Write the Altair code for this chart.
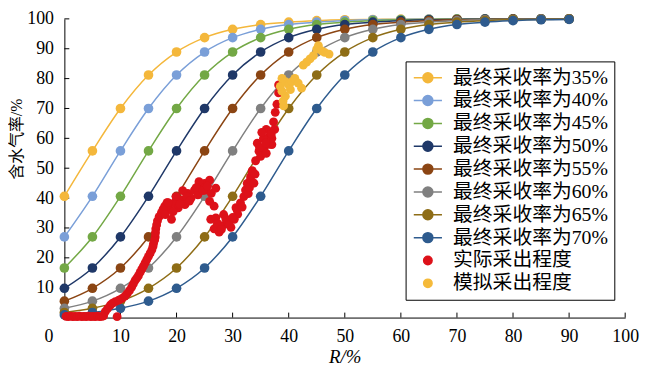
import altair as alt
import pandas as pd

# ---------------- data ----------------
R_GRID = [0, 5, 10, 15, 20, 25, 30, 35, 40, 45, 50, 55, 60, 65, 70, 75, 80, 85, 90]

series_names = ["最终采收率为35%", "最终采收率为40%", "最终采收率为45%", "最终采收率为50%",
                "最终采收率为55%", "最终采收率为60%", "最终采收率为65%", "最终采收率为70%"]
actual_name = "实际采出程度"
sim_name = "模拟采出程度"

fw35 = [40.6, 55.8, 70.0, 81.2, 88.9, 93.7, 96.5, 98.1, 98.9, 99.4, 99.7, 99.8, 99.9, 99.9, 100, 100, 100, 100, 100]
fw40 = [27.0, 40.6, 55.8, 70.0, 81.2, 88.9, 93.7, 96.5, 98.1, 98.9, 99.4, 99.7, 99.8, 99.9, 99.9, 100, 100, 100, 100]
fw45 = [16.6, 27.0, 40.6, 55.8, 70.0, 81.2, 88.9, 93.7, 96.5, 98.1, 98.9, 99.4, 99.7, 99.8, 99.9, 99.9, 100, 100, 100]
fw50 = [9.8, 16.6, 27.0, 40.6, 55.8, 70.0, 81.2, 88.9, 93.7, 96.5, 98.1, 98.9, 99.4, 99.7, 99.8, 99.9, 99.9, 100, 100]
fw55 = [5.5, 9.8, 16.6, 27.0, 40.6, 55.8, 70.0, 81.2, 88.9, 93.7, 96.5, 98.1, 98.9, 99.4, 99.7, 99.8, 99.9, 99.9, 100]
fw60 = [3.1, 5.5, 9.8, 16.6, 27.0, 40.6, 55.8, 70.0, 81.2, 88.9, 93.7, 96.5, 98.1, 98.9, 99.4, 99.7, 99.8, 99.9, 99.9]
fw65 = [1.7, 3.1, 5.5, 9.8, 16.6, 27.0, 40.6, 55.8, 70.0, 81.2, 88.9, 93.7, 96.5, 98.1, 98.9, 99.4, 99.7, 99.8, 99.9]
fw70 = [0.9, 1.7, 3.1, 5.5, 9.8, 16.6, 27.0, 40.6, 55.8, 70.0, 81.2, 88.9, 93.7, 96.5, 98.1, 98.9, 99.4, 99.7, 99.8]
curve_values = [fw35, fw40, fw45, fw50, fw55, fw60, fw65, fw70]

actual_R = [0.3, 0.7, 1.1, 1.5, 1.9, 2.3, 2.7, 3.1, 3.5, 3.9, 4.3, 4.7, 5.1, 5.5, 5.9, 6.3, 6.7, 7.0,
            7.3, 8.2, 9.1, 9.4, 10.3, 11.2, 12.0, 12.6, 13.2, 13.8, 14.4, 15.0, 15.6, 15.9, 16.2, 16.3,
            16.6, 17.3, 17.9, 18.8, 19.1, 19.6, 20.3, 20.9, 21.5, 22.0, 22.6, 23.2, 23.8, 24.4, 25.0,
            25.2, 25.9, 26.2, 27.0, 25.9, 26.7, 26.1, 27.0, 26.7, 27.6, 28.2, 28.4, 29.1, 29.7, 30.3,
            30.6, 30.9, 31.4, 32.0, 32.3, 32.6, 33.2, 33.5, 33.2, 33.5, 34.1, 34.7, 34.4, 35.6, 36.2,
            36.7, 37.0, 37.3, 37.6, 37.9, 38.2, 38.2, 35.0, 35.5, 36.0, 36.5, 37.0, 37.5, 36.0, 35.2,
            34.8, 35.9, 36.9, 18.3, 19.9, 21.1, 24.0,
            7.7, 8.6, 9.7, 10.8, 11.6, 12.3, 12.9, 13.5, 14.1, 14.7, 15.3, 15.8, 16.1, 16.25, 16.45,
            16.9, 17.6, 18.0, 18.5, 19.4, 20.6, 21.8, 22.3, 23.5, 24.7, 25.5, 27.3, 28.0, 28.8, 29.4,
            30.0, 30.8, 31.7, 32.8, 33.0, 33.8, 34.0]
actual_fw = [0.4, 0.3, 0.5, 0.3, 0.4, 0.3, 0.5, 0.3, 0.4, 0.3, 0.5, 0.3, 0.4, 0.3, 0.5, 0.3, 0.4, 0.6,
             2.0, 4.2, 5.3, 0.3, 6.4, 8.0, 10.2, 12.4, 14.0, 16.2, 18.3, 20.5, 22.7, 24.8, 27.0, 29.7,
             32.4, 35.1, 37.3, 36.2, 32.9, 38.4, 36.7, 39.4, 37.8, 41.6, 40.0, 42.7, 41.1, 43.8, 44.9,
             42.7, 46.0, 41.6, 43.3, 38.9, 37.3, 32.9, 33.4, 29.7, 28.6, 30.8, 34.5, 31.9, 30.2, 32.9,
             36.8, 34.6, 38.4, 40.5, 42.7, 44.9, 47.1, 48.1, 46.0, 49.2, 52.5, 55.7, 58.4, 56.8, 60.1,
             62.2, 57.9, 65.5, 68.7, 71.4, 75.2, 77.9, 54.0, 60.0, 55.0, 58.0, 60.0, 63.0, 63.0, 62.0,
             57.0, 58.5, 61.5, 38.5, 40.5, 42.5, 45.5,
             3.0, 4.8, 5.8, 7.2, 9.0, 11.3, 13.2, 15.1, 17.2, 19.4, 21.6, 23.8, 26.0, 28.4, 31.0,
             33.8, 36.3, 34.5, 38.5, 35.5, 38.0, 40.5, 39.0, 43.5, 42.5, 44.0, 31.5, 29.5, 33.0, 31.0,
             33.5, 36.0, 37.0, 41.5, 43.5, 45.0, 48.0]

sim_R = [39.1, 39.0, 39.4, 38.8, 38.5, 38.8, 39.4, 40.0, 40.3, 40.6, 41.1, 41.7, 42.3, 42.6, 43.2,
         43.8, 44.4, 45.0, 45.3, 45.9, 46.4, 47.2]
sim_fw = [70.9, 72.5, 74.1, 75.8, 77.4, 80.1, 79.0, 77.9, 76.3, 79.0, 80.1, 78.5, 76.8, 84.5, 85.5,
          86.6, 87.7, 89.9, 91.0, 89.3, 88.8, 88.2]

x_tick_values = [0, 10, 20, 30, 40, 50, 60, 70, 80, 90, 100]
y_tick_values = [10, 20, 30, 40, 50, 60, 70, 80, 90, 100]

curve_colors = ["#F4B73B", "#7A9FD8", "#73A845", "#1F3868", "#8B4513", "#808080", "#8E6D16", "#2E5B8E"]
actual_color = "#DD1119"
sim_color = "#F5BA3A"

# ---------------- tables ----------------
curves_df = pd.DataFrame([
    {"R": r, "fw": v, "series": name, "order": i}
    for i, (name, vals) in enumerate(zip(series_names, curve_values))
    for r, v in zip(R_GRID, vals)
])
actual_df = pd.DataFrame({"R": actual_R, "fw": actual_fw, "series": actual_name})
sim_df = pd.DataFrame({"R": sim_R, "fw": sim_fw, "series": sim_name})
xt_df = pd.DataFrame({"R": x_tick_values[1:]})
yt_df = pd.DataFrame({"fw": y_tick_values})

W, H = 567, 302
SERIF = "Liberation Serif, Noto Sans CJK SC"

domain = series_names + [actual_name, sim_name]
color_scale = alt.Scale(domain=domain, range=curve_colors + [actual_color, sim_color])
LINE_DOT = "M-1.5,0L1.5,0M0.53,0A0.53,0.53,0,1,1,-0.53,0A0.53,0.53,0,1,1,0.53,0Z"
DOT = "M0.45,0A0.45,0.45,0,1,1,-0.45,0A0.45,0.45,0,1,1,0.45,0Z"
shape_scale = alt.Scale(domain=domain, range=[LINE_DOT] * 8 + [DOT, DOT])

xs = alt.Scale(domain=[0, 100], nice=False, zero=False)
ys = alt.Scale(domain=[0, 100], nice=False, zero=False)

x_axis = alt.Axis(
    values=x_tick_values, title="R/%", grid=False, tickSize=0,
    domainColor="black", domainWidth=1,
    labelFont=SERIF, labelFontSize=18, labelColor="black", labelPadding=10,
    labelFlush=False, labelOverlap=False,
    labelOffset={"condition": {"test": "datum.value === 0", "value": -16}, "value": 0},
    titleFont=SERIF, titleFontSize=19, titleFontWeight="normal", titleFontStyle="italic",
    titleColor="black", titleY=39, titleBaseline="middle",
)
y_axis = alt.Axis(
    values=y_tick_values, title="含水气率/%", grid=False, tickSize=0,
    domainColor="black", domainWidth=1,
    labelFont=SERIF, labelFontSize=18, labelColor="black", labelPadding=11,
    labelOverlap=False,
    titleFont=SERIF, titleFontSize=16, titleFontWeight="normal", titleColor="black",
    titleX=-48, titleY=121, titleAngle=270, titleBaseline="middle", titleAlign="center",
)

X = alt.X("R:Q", scale=xs, axis=x_axis)
Y = alt.Y("fw:Q", scale=ys, axis=y_axis)

leg = alt.Legend(
    title=None, orient="none", legendX=345, legendY=43,
    fillColor="white", strokeColor="black", padding=6,
    labelFont=SERIF, labelFontSize=20, labelColor="black", labelOffset=15, labelLimit=300,
    symbolSize=361, symbolOffset=6, symbolStrokeWidth=1.5, symbolOpacity=1, rowPadding=2.1,
)

legend_layer = alt.Chart(curves_df).mark_point(filled=True, opacity=1).encode(
    x=X, y=Y,
    color=alt.Color("series:N", scale=color_scale, legend=leg),
    stroke=alt.Stroke("series:N", scale=color_scale, legend=leg),
    shape=alt.Shape("series:N", scale=shape_scale, legend=leg),
).transform_filter("false")

x_ticks = alt.Chart(xt_df).mark_rule(color="black", strokeWidth=1).encode(
    x=X, y=alt.value(H), y2=alt.value(H - 5)
)
y_ticks = alt.Chart(yt_df).mark_rule(color="black", strokeWidth=1).encode(
    y=Y, x=alt.value(0), x2=alt.value(5)
)

lines = alt.Chart(curves_df).mark_line(strokeWidth=1.5, interpolate="monotone").encode(
    x=X, y=Y,
    color=alt.Color("series:N", scale=color_scale, legend=None),
    detail="series:N",
)
pts = alt.Chart(curves_df).mark_point(filled=True, size=95, opacity=1).encode(
    x=X, y=Y,
    color=alt.Color("series:N", scale=color_scale, legend=None),
)
actual_pts = alt.Chart(actual_df).mark_point(filled=True, size=80, opacity=1).encode(
    x=X, y=Y,
    color=alt.Color("series:N", scale=color_scale, legend=None),
)
sim_pts = alt.Chart(sim_df).mark_point(filled=True, size=80, opacity=1).encode(
    x=X, y=Y,
    color=alt.Color("series:N", scale=color_scale, legend=None),
)

chart = alt.layer(
    legend_layer, x_ticks, y_ticks, lines, pts, actual_pts, sim_pts
).properties(
    width=W, height=H,
    padding={"left": 57, "top": 9, "right": 17, "bottom": 49},
    autosize=alt.AutoSizeParams(type="none"),
    background="white",
).configure_view(stroke=None).configure_legend(strokeWidth=1)

chart.save("out.html", embed_options={"renderer": "svg", "actions": False})
